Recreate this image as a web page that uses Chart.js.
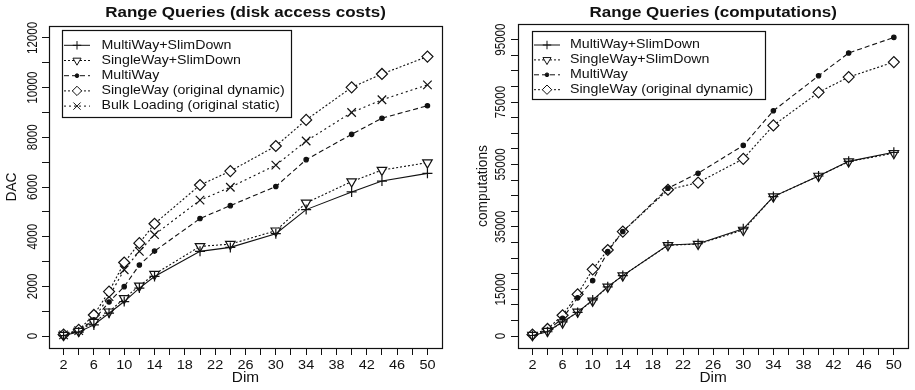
<!DOCTYPE html>
<html>
<head>
<meta charset="utf-8">
<script src="https://cdn.jsdelivr.net/npm/chart.js@4.4.1/dist/chart.umd.min.js"></script>
<style>
  body { margin: 0; background: #fff; }
  .wrap { position: absolute; top: 0; height: 390px; }
  #leftWrap { left: 0; width: 457px; }
  #rightWrap { left: 457px; width: 458px; }
</style>
</head>
<body>
<div class="wrap" id="leftWrap"><canvas id="dacChart" width="457" height="390"></canvas></div>
<div class="wrap" id="rightWrap"><canvas id="compChart" width="458" height="390"></canvas></div>
<script>
// Dimensions on the x axis
const dims = [2, 4, 6, 8, 10, 12, 14, 20, 24, 30, 34, 40, 44, 50];
const xTickValues = [2, 4, 6, 8, 10, 12, 14, 16, 18, 20, 22, 24, 26, 28, 30, 32, 34, 36, 38, 40, 42, 44, 46, 48, 50];
const xTickLabels = [2, 6, 10, 14, 18, 22, 26, 30, 34, 38, 42, 46, 50];

// Left chart: disk access costs
const dacMultiSlim  = [20, 160, 450, 920, 1390, 1930, 2400, 3410, 3570, 4120, 5090, 5800, 6240, 6550];
const dacSingleSlim = [40, 200, 560, 980, 1520, 2020, 2490, 3610, 3700, 4240, 5360, 6220, 6680, 6980];
const dacMulti      = [40, 200, 650, 1370, 1990, 2860, 3420, 4730, 5250, 6020, 7100, 8120, 8770, 9270];
const dacSingle     = [60, 250, 850, 1790, 2960, 3740, 4520, 6080, 6640, 7650, 8700, 10010, 10550, 11250];
const dacBulk       = [50, 220, 700, 1590, 2670, 3410, 4080, 5470, 5990, 6880, 7850, 9000, 9510, 10110];
const dacYTicks  = [0, 1000, 2000, 3000, 4000, 5000, 6000, 7000, 8000, 9000, 10000, 11000, 12000];
const dacYLabels = [0, 2000, 4000, 6000, 8000, 10000, 12000];

// Right chart: computations
const compMultiSlim  = [200, 1400, 4600, 7600, 11600, 15800, 19400, 29200, 29600, 34400, 44700, 51300, 56000, 58900];
const compSingleSlim = [300, 1600, 4300, 7800, 11300, 15800, 19400, 29100, 29500, 34000, 44700, 51300, 55900, 58600];
const compMulti      = [500, 1900, 5700, 12300, 17800, 27100, 33500, 47400, 52200, 61100, 72200, 83400, 90700, 95700];
const compSingle     = [500, 2300, 6700, 13400, 21400, 27600, 33500, 46900, 49200, 56800, 67500, 78100, 83000, 87800];
const compYTicks  = [0, 5000, 10000, 15000, 20000, 25000, 30000, 35000, 40000, 45000, 50000,
                     55000, 60000, 65000, 70000, 75000, 80000, 85000, 90000, 95000];
const compYLabels = [0, 15000, 35000, 55000, 75000, 95000];

const INK = '#111';

// series look, R style
const styles = {
  multiSlim:  { label: 'MultiWay+SlimDown', borderDash: [], pointStyle: 'cross', pointRadius: 5, rotation: 0, fill: INK },
  singleSlim: { label: 'SingleWay+SlimDown', borderDash: [2, 2], pointStyle: 'triangle', pointRadius: 5.5, rotation: 180, fill: '#fff' },
  multi:      { label: 'MultiWay', borderDash: [5, 3], pointStyle: 'circle', pointRadius: 2.2, rotation: 0, fill: INK },
  single:     { label: 'SingleWay (original dynamic)', borderDash: [2, 2], pointStyle: 'rectRot', pointRadius: 5.5, rotation: 0, fill: '#fff' },
  bulk:       { label: 'Bulk Loading (original static)', borderDash: [2, 3], pointStyle: 'crossRot', pointRadius: 6, rotation: 0, fill: INK }
};

function series(style, values) {
  return {
    label: style.label,
    data: dims.map((d, i) => ({ x: d, y: values[i] })),
    borderColor: INK,
    borderWidth: 1.1,
    borderDash: style.borderDash,
    backgroundColor: style.fill,
    pointStyle: style.pointStyle,
    pointRadius: style.pointRadius,
    pointRotation: style.rotation,
    pointBorderWidth: 1.2,
    pointBorderColor: INK,
    pointBackgroundColor: style.fill,
    tension: 0,
    fill: false
  };
}

function drawText(ctx, s, x, y, font, sy, rot, align) {
  ctx.save();
  ctx.translate(x, y);
  ctx.scale(1, sy);
  if (rot) ctx.rotate(rot);
  ctx.font = font;
  ctx.fillStyle = INK;
  ctx.textAlign = align || 'center';
  ctx.textBaseline = 'middle';
  ctx.fillText(s, 0, 0);
  ctx.restore();
}

// box, titles, rotated tick labels and legend drawn the way R does it
const rStyle = {
  id: 'rStyle',
  afterDraw(chart, args, o) {
    const ctx = chart.ctx;
    const a = chart.chartArea;
    const xs = chart.scales.x, ys = chart.scales.y;
    ctx.save();
    ctx.strokeStyle = INK;
    ctx.lineWidth = 1.2;
    ctx.setLineDash([]);
    ctx.strokeRect(Math.round(a.left) + 0.5, Math.round(a.top) + 0.5, Math.round(a.right - a.left), Math.round(a.bottom - a.top));

    const cx = (a.left + a.right) / 2;
    drawText(ctx, o.title, cx, 13.3, 'bold 17px "Liberation Sans", Arial, sans-serif', 0.88);
    drawText(ctx, 'Dim', cx, 378, '15.4px "Liberation Sans", Arial, sans-serif', 0.95);
    drawText(ctx, o.yTitle, o.yTitleX, (a.top + a.bottom) / 2, '14.5px "Liberation Sans", Arial, sans-serif', 0.95, -Math.PI / 2);

    xTickLabels.forEach(v => {
      drawText(ctx, String(v), xs.getPixelForValue(v), 365.5, '14.5px "Liberation Sans", Arial, sans-serif', 0.84);
    });
    o.yLabels.forEach(v => {
      drawText(ctx, String(v), o.yLabelX, ys.getPixelForValue(v), '14.5px "Liberation Sans", Arial, sans-serif', 0.8, -Math.PI / 2);
    });

    // legend
    const L = o.legend;
    ctx.lineWidth = 1.2;
    ctx.strokeRect(L.x + 0.5, L.y + 0.5, L.w, L.h);
    chart.data.datasets.forEach((ds, i) => {
      const y = L.rowStart + i * L.rowGap;
      ctx.strokeStyle = INK;
      ctx.lineWidth = 1;
      ctx.setLineDash(ds.borderDash);
      ctx.beginPath();
      ctx.moveTo(L.x + 2, y);
      ctx.lineTo(L.x + 28, y);
      ctx.stroke();
      ctx.setLineDash([]);
      ctx.fillStyle = ds.pointBackgroundColor;
      Chart.helpers.drawPoint(ctx, {
        pointStyle: ds.pointStyle,
        radius: ds.pointRadius * 0.85,
        rotation: ds.pointRotation,
        borderWidth: 1
      }, L.x + 15, y);
      drawText(ctx, ds.label, L.textX, y, '14.2px "Liberation Sans", Arial, sans-serif', 0.84, 0, 'left');
    });
    ctx.restore();
  }
};

function makeChart(id, datasets, cfg) {
  const tickGrid = { drawOnChartArea: false, drawTicks: true, tickLength: 7, color: INK, lineWidth: 1 };
  return new Chart(document.getElementById(id).getContext('2d'), {
    type: 'line',
    data: { datasets: datasets },
    plugins: [rStyle],
    options: {
      responsive: false,
      animation: false,
      layout: { padding: { top: cfg.top, right: cfg.right, left: 0, bottom: 0 } },
      plugins: {
        legend: { display: false },
        title: { display: false },
        tooltip: { enabled: false },
        rStyle: cfg.r
      },
      scales: {
        x: {
          type: 'linear',
          min: 0.08,
          max: 51.92,
          afterBuildTicks: s => { s.ticks = xTickValues.map(v => ({ value: v })); },
          afterFit: s => { s.height = 390 - cfg.bottom; },
          ticks: { display: false },
          grid: tickGrid,
          border: { display: false }
        },
        y: {
          type: 'linear',
          min: cfg.yMin,
          max: cfg.yMax,
          afterBuildTicks: s => { s.ticks = cfg.yTicks.map(v => ({ value: v })); },
          afterFit: s => { s.width = cfg.left; },
          ticks: { display: false },
          grid: tickGrid,
          border: { display: false }
        }
      }
    }
  });
}

makeChart('dacChart', [
  series(styles.multiSlim, dacMultiSlim),
  series(styles.singleSlim, dacSingleSlim),
  series(styles.multi, dacMulti),
  series(styles.single, dacSingle),
  series(styles.bulk, dacBulk)
], {
  top: 26, right: 15, left: 49, bottom: 348,
  yMin: -480, yMax: 12480, yTicks: dacYTicks,
  r: {
    title: 'Range Queries (disk access costs)',
    yTitle: 'DAC', yTitleX: 12,
    yLabels: dacYLabels, yLabelX: 33,
    legend: { x: 62, y: 30, w: 229, h: 87, rowStart: 45.3, rowGap: 15.2, textX: 101.5 }
  }
});

makeChart('compChart', [
  series(styles.multiSlim, compMultiSlim),
  series(styles.singleSlim, compSingleSlim),
  series(styles.multi, compMulti),
  series(styles.single, compSingle)
], {
  top: 24, right: 4, left: 61, bottom: 348,
  yMin: -3800, yMax: 100000, yTicks: compYTicks,
  r: {
    title: 'Range Queries (computations)',
    yTitle: 'computations', yTitleX: 26,
    yLabels: compYLabels, yLabelX: 44,
    legend: { x: 75, y: 31, w: 233, h: 68, rowStart: 45, rowGap: 14.9, textX: 113 }
  }
});
</script>
</body>
</html>
